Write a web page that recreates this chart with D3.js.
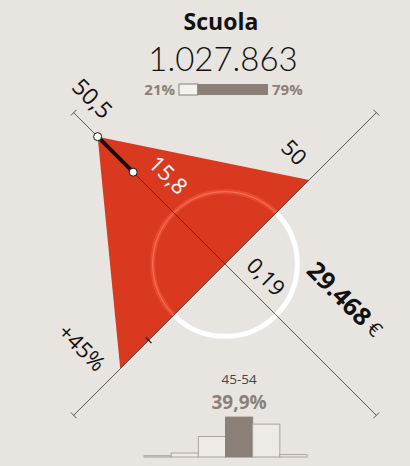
<!DOCTYPE html>
<html lang="it">
<head>
<meta charset="UTF-8" />
<title>Scuola</title>
<script src="https://d3js.org/d3.v7.min.js"></script>
<style>
  body { margin: 0; background: #e8e5e0; }
  svg { display: block; font-family: "Open Sans", "Noto Sans", sans-serif; }
</style>
</head>
<body>
<svg width="410" height="466"></svg>
<script>
  // header
  const sectorName = "Scuola";
  const workers = "1.027.863";
  const genderShare = [21, 79];

  // radar axes: upper-left, upper-right, bottom-right, bottom-left
  const axisAngles = [-135, -45, 45, 135];
  const axisValues = [50.5, 50, 0.19, 45];
  const axisDomains = [[0, 60], [0, 90], [0.19, 0.6], [0, 65]];
  const axisLabels = ["50,5", "50", "0,19", "+45%"];
  const refValues = [36.4, null, null, 32.8];
  const refLabel = "15,8";
  const income = "29.468";
  const circleShare = 0.338;

  // age histogram
  const ageGroups = ["18-24", "25-34", "35-44", "45-54", "55-64", "65+"];
  const ageShares = [1.3, 4, 20.5, 39.9, 32.9, 2.4];
  const topAge = "45-54";
  const topAgeLabel = "39,9%";

  const svg = d3.select("svg");
  const cx = 225, cy = 264, R = 214;
  const red = "#d8391f", grey = "#8a8078";

  const rad = a => a * Math.PI / 180;
  const scales = axisDomains.map(d => d3.scaleLinear().domain(d).range([0, R]));
  // point on axis i at distance r, offset perp px (positive = counter-clockwise side)
  function pt(i, r, perp) {
    const a = rad(axisAngles[i]);
    const ux = Math.cos(a), uy = Math.sin(a);
    const nx = uy, ny = -ux;
    return [cx + ux * r + nx * (perp || 0), cy + uy * r + ny * (perp || 0)];
  }

  // header
  svg.append("text").attr("x", 221).attr("y", 30).attr("text-anchor", "middle")
    .attr("font-size", 23).attr("font-weight", 700).attr("fill", "#111").text(sectorName);
  svg.append("text").attr("x", 223).attr("y", 71).attr("text-anchor", "middle")
    .attr("font-family", "Lato, sans-serif")
    .attr("font-size", 33).attr("font-weight", 300).attr("fill", "#111").text(workers);

  const bx = d3.scaleLinear().domain([0, 100]).range([179, 268]);
  svg.append("rect").attr("x", bx(0)).attr("y", 84).attr("width", bx(genderShare[0]) - bx(0)).attr("height", 11)
    .attr("fill", "#f4f2ee").attr("stroke", grey).attr("stroke-width", 1);
  svg.append("rect").attr("x", bx(genderShare[0])).attr("y", 84).attr("width", bx(100) - bx(genderShare[0])).attr("height", 11)
    .attr("fill", grey);
  svg.append("text").attr("x", bx(0) - 4).attr("y", 95).attr("text-anchor", "end")
    .attr("font-size", 15).attr("font-weight", 700).attr("fill", grey).text(genderShare[0] + "%");
  svg.append("text").attr("x", bx(100) + 4).attr("y", 95)
    .attr("font-size", 15).attr("font-weight", 700).attr("fill", grey).text(genderShare[1] + "%");

  // benchmark circle (white under the shape)
  const circR = circleShare * R;
  svg.append("circle").attr("cx", cx).attr("cy", cy).attr("r", circR)
    .attr("fill", "none").attr("stroke", "#fff").attr("stroke-width", 5);

  // shape
  const shapePts = axisValues.map((v, i) => pt(i, scales[i](v)));
  const line = d3.line().curve(d3.curveLinearClosed);
  svg.append("clipPath").attr("id", "shape").append("path").attr("d", line(shapePts));
  svg.append("path").attr("d", line(shapePts)).attr("fill", red);

  const inner = svg.append("g").attr("clip-path", "url(#shape)");
  inner.append("circle").attr("cx", cx).attr("cy", cy).attr("r", circR)
    .attr("fill", "none").attr("stroke", "#ec4a2f").attr("stroke-width", 5);
  inner.append("circle").attr("cx", cx).attr("cy", cy).attr("r", circR)
    .attr("fill", "none").attr("stroke", "#f58d76").attr("stroke-width", 0.7);

  // axes
  const ax = svg.append("g").attr("stroke", "#333").attr("stroke-width", 0.8);
  axisAngles.forEach((a, i) => {
    const [x1, y1] = pt(i, R);
    ax.append("line").attr("x1", cx).attr("y1", cy).attr("x2", x1).attr("y2", y1);
    const t1 = pt(i, R, -4), t2 = pt(i, R, 4);
    ax.append("line").attr("x1", t1[0]).attr("y1", t1[1]).attr("x2", t2[0]).attr("y2", t2[1]);
  });

  // reference marks
  refValues.forEach((v, i) => {
    if (v == null) return;
    const r = scales[i](v);
    if (i === 0) {
      const p0 = pt(i, r), p1 = shapePts[i];
      svg.append("line").attr("x1", p0[0]).attr("y1", p0[1]).attr("x2", p1[0]).attr("y2", p1[1])
        .attr("stroke", "#111").attr("stroke-width", 4);
      [p0, p1].forEach(p => svg.append("circle").attr("cx", p[0]).attr("cy", p[1]).attr("r", 4)
        .attr("fill", "#fff").attr("stroke", "#111").attr("stroke-width", 1));
    } else {
      const t1 = pt(i, r, -4), t2 = pt(i, r, 4);
      svg.append("line").attr("x1", t1[0]).attr("y1", t1[1]).attr("x2", t2[0]).attr("y2", t2[1])
        .attr("stroke", "#111").attr("stroke-width", 1.2);
    }
  });

  // labels
  function label(p, txt, opts) {
    const t = svg.append("text")
      .attr("transform", `translate(${p[0]},${p[1]}) rotate(45)`)
      .attr("text-anchor", opts.anchor || "middle")
      .attr("dominant-baseline", "central")
      .attr("font-size", opts.size || 22)
      .attr("font-weight", opts.weight || 400)
      .attr("fill", opts.fill || "#111");
    return t.text(txt);
  }
  // upper-left: value ends at the vertex
  label(pt(0, scales[0](axisValues[0]) + 8, -24), axisLabels[0], { anchor: "end", size: 23 });
  label(pt(0, scales[0](refValues[0]) - 5, -24), refLabel, { anchor: "start", fill: "#fff" });
  // upper-right
  label(pt(1, scales[1](axisValues[1]) + 10, 30), axisLabels[1], {});
  // bottom-right
  label(pt(2, 38, 21), axisLabels[2], {});
  const inc = label(pt(2, 110, 61), "", {});
  inc.append("tspan").attr("font-weight", 700).attr("font-size", 25).text(income);
  inc.append("tspan").attr("font-size", 20).text(" €");
  // bottom-left
  label(pt(3, scales[3](axisValues[3]) + 11, -42), axisLabels[3], {});

  // histogram
  const hx = d3.scaleBand().domain(ageGroups).range([144, 307]).padding(0);
  const hy = d3.scaleLinear().domain([0, 40]).range([457, 417]);
  svg.append("g").selectAll("rect").data(ageShares).join("rect")
    .attr("x", (d, i) => hx(ageGroups[i]))
    .attr("y", d => hy(d))
    .attr("width", hx.bandwidth())
    .attr("height", d => hy(0) - hy(d))
    .attr("fill", (d, i) => ageGroups[i] === topAge ? grey : "#eeebe7")
    .attr("stroke", (d, i) => ageGroups[i] === topAge ? grey : "#aaa39c")
    .attr("stroke-width", 1);
  const tx = hx(topAge) + hx.bandwidth() / 2;
  svg.append("text").attr("x", tx).attr("y", 384).attr("text-anchor", "middle")
    .attr("font-size", 13.5).attr("fill", "#444").text(topAge);
  svg.append("text").attr("x", tx).attr("y", 409).attr("text-anchor", "middle")
    .attr("font-size", 19).attr("font-weight", 700).attr("fill", grey).text(topAgeLabel);
</script>
</body>
</html>
